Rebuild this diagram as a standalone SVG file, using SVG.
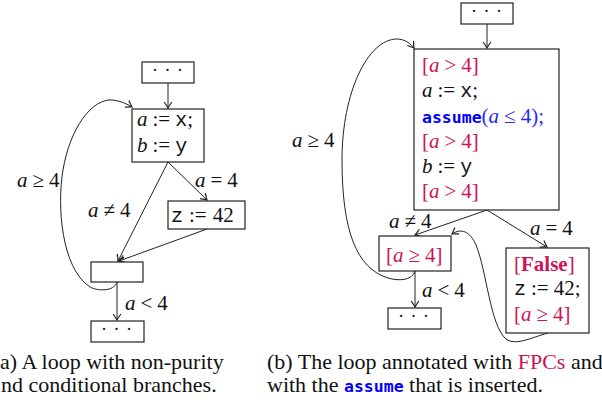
<svg xmlns="http://www.w3.org/2000/svg" width="602" height="405" viewBox="0 0 602 405">
<style>
  text { font-family: "Liberation Serif", "Times New Roman", serif; font-size: 21px; fill: #111; }
  .i { font-style: italic; }
  .tt { font-family: "Liberation Mono", "Courier New", monospace; font-size: 20px; }
  .kw { font-family: "DejaVu Sans Mono", monospace; font-weight: bold; font-size: 16.5px; fill: #0000ff; }
  .fpc { fill: #cc1458; }
  .blue { fill: #2a2af5; }
  .cap { font-size: 22px; }
  .box { fill: #fff; stroke: #222; stroke-width: 1.2; }
  .edge { fill: none; stroke: #222; stroke-width: 1; }
  .dots { font-size: 18px; text-anchor: middle; letter-spacing: 1px; }
</style>
<defs>
  <marker id="arr" markerUnits="userSpaceOnUse" markerWidth="12" markerHeight="12" viewBox="-8 -5 10 10" refX="0" refY="0" orient="auto">
    <path d="M-5,-3.2 Q-1.5,-0.8 0,0 Q-1.5,0.8 -5,3.2" fill="none" stroke="#222" stroke-width="1"/>
  </marker>
</defs>
<rect width="602" height="405" fill="#fff"/>

<!-- connectors -->
<g id="connectors">
  <!-- left diagram -->
  <path class="edge" d="M168,83 L168,108" marker-end="url(#arr)"/>
  <path class="edge" d="M168,162 L207,200" marker-end="url(#arr)"/>
  <path class="edge" d="M168,162 L118,261" marker-end="url(#arr)"/>
  <path class="edge" d="M207,229 L119,261" marker-end="url(#arr)"/>
  <path class="edge" d="M117,282 C114,292 97,291 90,287 C61,268 57,205 63,170 C70,128 92,98 113,100 C121,101 127,104 132,107" marker-end="url(#arr)"/>
  <path class="edge" d="M117,282 L117,320" marker-end="url(#arr)"/>
  <!-- right diagram -->
  <path class="edge" d="M487,24 L487,48" marker-end="url(#arr)"/>
  <path class="edge" d="M487,210 L415,235" marker-end="url(#arr)"/>
  <path class="edge" d="M487,210 L547,247" marker-end="url(#arr)"/>
  <path class="edge" d="M415,271 C412,281 398,281 388,278 C356,268 342,230 342,160 C342,92 368,39 397,39 C405,39 411,44 414,48" marker-end="url(#arr)"/>
  <path class="edge" d="M415,271 L415,307" marker-end="url(#arr)"/>
  <path class="edge" d="M548,333 C530,338 516,346 506,339 C490,325 487,272 476,245 C470,231 461,228 452,234" marker-end="url(#arr)"/>
</g>

<!-- edge labels -->
<g id="labels">
  <text x="195" y="187"><tspan class="i">a</tspan><tspan dx="5">=</tspan><tspan dx="5">4</tspan></text>
  <text x="88" y="217"><tspan class="i">a</tspan><tspan dx="5">≠</tspan><tspan dx="5">4</tspan></text>
  <text x="17" y="187"><tspan class="i">a</tspan><tspan dx="5">≥</tspan><tspan dx="5">4</tspan></text>
  <text x="125" y="310"><tspan class="i">a</tspan><tspan dx="5">&lt;</tspan><tspan dx="5">4</tspan></text>
  <text x="292" y="147"><tspan class="i">a</tspan><tspan dx="5">≥</tspan><tspan dx="5">4</tspan></text>
  <text x="389" y="228"><tspan class="i">a</tspan><tspan dx="5">≠</tspan><tspan dx="5">4</tspan></text>
  <text x="530" y="235"><tspan class="i">a</tspan><tspan dx="5">=</tspan><tspan dx="5">4</tspan></text>
  <text x="422" y="297"><tspan class="i">a</tspan><tspan dx="5">&lt;</tspan><tspan dx="5">4</tspan></text>
</g>

<!-- left nodes -->
<g id="L_top">
  <rect class="box" x="142" y="62" width="52" height="21"/>
  <text class="dots" x="168" y="76">· · ·</text>
</g>
<g id="L_main">
  <rect class="box" x="132" y="109" width="72" height="53"/>
  <text x="137" y="126"><tspan class="i">a</tspan><tspan dx="5">:=</tspan><tspan dx="5" class="tt">x</tspan>;</text>
  <text x="137" y="152"><tspan class="i">b</tspan><tspan dx="5">:=</tspan><tspan dx="5" class="tt">y</tspan></text>
</g>
<g id="L_z">
  <rect class="box" x="168" y="201" width="77" height="28"/>
  <text x="171" y="222"><tspan class="tt">z</tspan><tspan dx="6">:=</tspan><tspan dx="6">42</tspan></text>
</g>
<g id="L_join">
  <rect class="box" x="91" y="262" width="52" height="20"/>
</g>
<g id="L_bottom">
  <rect class="box" x="91" y="321" width="53" height="21"/>
  <text class="dots" x="117" y="335">· · ·</text>
</g>

<!-- right nodes -->
<g id="R_top">
  <rect class="box" x="461" y="3" width="52" height="21"/>
  <text class="dots" x="487" y="17">· · ·</text>
</g>
<g id="R_main">
  <rect class="box" x="414" y="49" width="145" height="161"/>
  <text x="422" y="72" class="fpc">[<tspan class="i">a</tspan><tspan dx="5">&gt;</tspan><tspan dx="5">4]</tspan></text>
  <text x="422" y="97"><tspan class="i">a</tspan><tspan dx="5">:=</tspan><tspan dx="5" class="tt">x</tspan>;</text>
  <text x="422" y="123"><tspan class="kw">assume</tspan><tspan class="blue">(<tspan class="i">a</tspan><tspan dx="5">≤</tspan><tspan dx="5">4);</tspan></tspan></text>
  <text x="422" y="148" class="fpc">[<tspan class="i">a</tspan><tspan dx="5">&gt;</tspan><tspan dx="5">4]</tspan></text>
  <text x="422" y="173"><tspan class="i">b</tspan><tspan dx="5">:=</tspan><tspan dx="5" class="tt">y</tspan></text>
  <text x="422" y="198" class="fpc">[<tspan class="i">a</tspan><tspan dx="5">&gt;</tspan><tspan dx="5">4]</tspan></text>
</g>
<g id="R_join">
  <rect class="box" x="379" y="236" width="72" height="35"/>
  <text x="386" y="262" class="fpc">[<tspan class="i">a</tspan><tspan dx="5">≥</tspan><tspan dx="5">4]</tspan></text>
</g>
<g id="R_false">
  <rect class="box" x="506" y="248" width="83" height="85"/>
  <text x="514" y="271" class="fpc">[<tspan font-weight="bold">False</tspan>]</text>
  <text x="514" y="295"><tspan class="tt">z</tspan><tspan dx="5">:=</tspan><tspan dx="5">42;</tspan></text>
  <text x="514" y="321" class="fpc">[<tspan class="i">a</tspan><tspan dx="5">≥</tspan><tspan dx="5">4]</tspan></text>
</g>
<g id="R_bottom">
  <rect class="box" x="388" y="308" width="53" height="21"/>
  <text class="dots" x="414" y="322">· · ·</text>
</g>

<!-- captions -->
<g id="captions">
  <text class="cap" x="0" y="369">a) A loop with non-purity</text>
  <text class="cap" x="1" y="392">nd conditional branches.</text>
  <text class="cap" x="267" y="369">(b) The loop annotated with <tspan class="fpc">FPCs</tspan> and</text>
  <text class="cap" x="267" y="392">with the <tspan class="kw">assume</tspan> that is inserted.</text>
</g>
</svg>
